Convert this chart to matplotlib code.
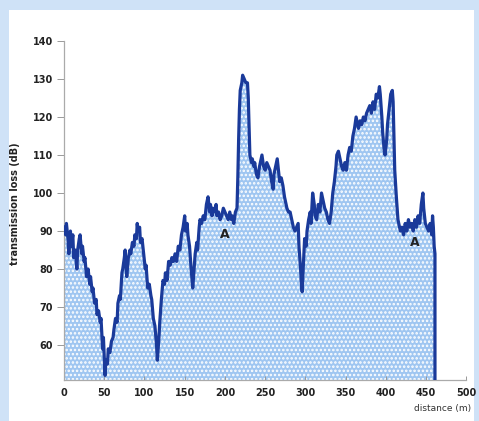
import numpy as np
import matplotlib
matplotlib.use("Agg")
from matplotlib import pyplot as plt
from matplotlib.patches import Rectangle

# distance (m) and transmission loss (dB)
distance = [0, 2, 3, 5, 6, 8, 9, 11, 12, 14, 16, 17, 19, 20, 22, 23, 25, 26, 28, 30,
            32, 33, 35, 36, 38, 40, 41, 43, 45, 46, 48, 49, 51, 52, 54, 55, 57, 59, 61, 62,
            64, 66, 67, 69, 70, 72, 73, 75, 76, 77, 78, 80, 82, 83, 85, 87, 88, 90, 91, 92,
            94, 95, 97, 99, 101, 102, 104, 106, 108, 109, 111, 113, 115, 116, 118, 119, 121, 123, 125, 126,
            128, 130, 132, 134, 136, 138, 140, 142, 144, 146, 148, 150, 151, 153, 154, 156, 158, 160, 161, 163,
            165, 166, 168, 169, 171, 173, 175, 177, 179, 181, 182, 184, 185, 187, 189, 190, 192, 194, 196, 198,
            200, 202, 204, 206, 208, 209, 211, 213, 215, 216, 217, 218, 219, 221, 222, 224, 226, 228, 229, 230,
            231, 233, 234, 236, 237, 239, 241, 243, 245, 246, 248, 250, 252, 254, 256, 258, 260, 261, 263, 265,
            266, 268, 270, 272, 274, 276, 277, 279, 281, 283, 285, 287, 289, 291, 292, 294, 295, 296, 297, 299,
            301, 302, 304, 306, 307, 309, 311, 312, 314, 316, 318, 320, 322, 324, 326, 328, 330, 332, 334, 336,
            338, 339, 341, 343, 345, 347, 349, 351, 353, 355, 357, 359, 361, 363, 364, 366, 368, 370, 372, 374,
            376, 378, 380, 382, 384, 386, 388, 390, 392, 393, 395, 396, 398, 399, 401, 402, 404, 406, 408, 409,
            410, 411, 413, 415, 416, 418, 420, 422, 424, 426, 428, 430, 432, 434, 436, 438, 440, 442, 444, 446,
            447, 449, 451, 453, 455, 457, 458, 459, 460, 461]
loss = [91, 89, 92, 88, 84, 90, 86, 89, 83, 85, 80, 85, 88, 89, 84, 86, 82, 83, 78, 80,
        76, 78, 74, 75, 71, 72, 68, 69, 66, 67, 59, 62, 52, 56, 55, 59, 58, 61, 62, 64,
        67, 66, 71, 73, 72, 79, 80, 83, 85, 81, 78, 83, 85, 84, 87, 86, 89, 88, 92, 90,
        91, 87, 88, 84, 80, 81, 75, 76, 73, 72, 67, 65, 60, 56, 62, 66, 72, 77, 76, 79,
        77, 82, 81, 83, 82, 84, 82, 86, 85, 89, 91, 94, 90, 92, 89, 86, 80, 75, 78, 84,
        87, 85, 91, 93, 92, 94, 93, 97, 99, 95, 97, 94, 96, 95, 97, 94, 95, 93, 94, 96,
        95, 94, 93, 95, 93, 94, 92, 95, 96, 104, 114, 122, 127, 129, 131, 130, 129, 129, 125, 117,
        110, 108, 109, 107, 108, 105, 104, 107, 109, 110, 107, 106, 108, 107, 106, 103, 101, 105, 107, 109,
        107, 103, 104, 102, 99, 97, 96, 95, 95, 93, 91, 90, 91, 92, 86, 80, 76, 74, 79, 88,
        86, 90, 93, 95, 92, 100, 97, 94, 93, 97, 95, 100, 98, 96, 95, 93, 92, 95, 100, 103,
        107, 110, 111, 109, 107, 106, 108, 106, 110, 112, 111, 115, 117, 120, 119, 117, 119, 118, 120, 119,
        121, 122, 123, 121, 124, 122, 126, 125, 128, 126, 120, 116, 111, 110, 114, 118, 122, 126, 127, 124,
        115, 106, 99, 93, 92, 90, 91, 89, 92, 90, 93, 91, 92, 90, 93, 91, 94, 92, 97, 100,
        96, 92, 91, 90, 92, 89, 94, 91, 86, 84]

x_ticks = [0, 50, 100, 150, 200, 250, 300, 350, 400, 450, 500]
y_ticks = [60, 70, 80, 90, 100, 110, 120, 130, 140]
labels_a = [(200, 89), (436, 87)]

y_min = 50.8

fig = plt.figure(figsize=(4.79, 4.21), dpi=100, facecolor='#cfe2f7')
bg = Rectangle((0.018, 0.0), 0.971, 0.976, transform=fig.transFigure,
               facecolor='white', edgecolor='none', zorder=-10)
fig.patches.append(bg)
ax = fig.add_axes([0.1336, 0.0974, 0.84, 0.8052])
ax.set_facecolor('none')

d = np.array(distance + [distance[-1]])
v = np.array(loss + [y_min])

plt.rcParams['hatch.linewidth'] = 1.2
ax.fill_between(d, y_min, v, facecolor='#9fc6f1', edgecolor='white', hatch='....',
                linewidth=0, zorder=1)
ax.plot(d, v, color='#1a3a9a', linewidth=2.3, zorder=3)

for xa, ya in labels_a:
    ax.text(xa, ya, 'A', ha='center', va='center', fontsize=9, fontweight='bold',
            color='#222222', zorder=4)

ax.set_xlim(0, 500)
ax.set_ylim(y_min, 140)
ax.set_xticks(x_ticks)
ax.set_yticks(y_ticks)
ax.tick_params(axis='y', direction='out', length=5, width=0.7, color='#999999',
               labelsize=7, labelcolor='#222222', pad=3)
ax.tick_params(axis='x', direction='in', length=3, width=0.7, color='#999999',
               labelsize=7, labelcolor='#222222', pad=6)
for lab in ax.get_xticklabels() + ax.get_yticklabels():
    lab.set_fontweight('bold')

for s in ['top', 'right']:
    ax.spines[s].set_visible(False)
for s in ['left', 'bottom']:
    ax.spines[s].set_color('#aaaaaa')
    ax.spines[s].set_linewidth(0.9)
    ax.spines[s].set_linestyle((0, (2, 1)))

ax.set_ylabel('transmission loss (dB)', fontsize=7, fontweight='bold', color='#222222')
ax.yaxis.set_label_coords(-0.11, 0.52)
fig.text(0.983, 0.018, 'distance (m)', ha='right', va='bottom', fontsize=6.5, color='#333333')

fig.savefig('out.png', dpi=100, facecolor=fig.get_facecolor())
